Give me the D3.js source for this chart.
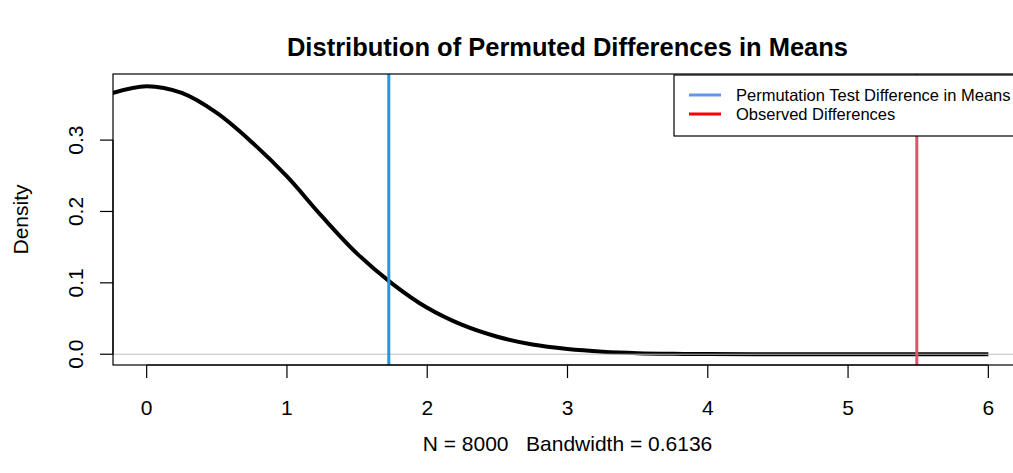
<!DOCTYPE html>
<meta charset="utf-8">
<style>
body { margin: 0; background: white; }
text { font-family: 'Liberation Sans', Arial, sans-serif; fill: black; white-space: pre; }
</style>
<body>
<script src="https://d3js.org/d3.v7.min.js"></script>
<script>
// density curve
var densX = [-0.243, 0, 0.25, 0.5, 0.75, 1.0, 1.25, 1.5, 1.75, 2.0, 2.25, 2.5, 2.75, 3.0, 3.25, 3.5, 3.75, 4.0, 4.5, 5.0, 5.5, 6.0];
var densY = [0.366, 0.3755, 0.366, 0.338, 0.297, 0.249, 0.193, 0.141, 0.099, 0.065, 0.041, 0.0245, 0.0135, 0.0072, 0.0035, 0.0015, 0.0006, 0.0002, 0.00003, 0, 0, 0];

var xTicks = [0, 1, 2, 3, 4, 5, 6];
var yTicks = [0.0, 0.1, 0.2, 0.3];
var xLim = [0, 6];
var yLim = [0, 0.3775];

var permDiff = 1.726;   // blue line
var obsDiff = 5.49;     // red line

var legendLabels = ["Permutation Test Difference in Means", "Observed Differences"];
var legendColours = ["#6495ED", "#FF0000"];

var title = "Distribution of Permuted Differences in Means";
var xLabel = "N = 8000   Bandwidth = 0.6136";
var yLabel = "Density";

var width = 1013, height = 473;
var plotL = 113, plotR = 1022, plotT = 74, plotB = 365;

var svg = d3.select("body").append("svg")
	.attr("width", width)
	.attr("height", height);

// R style 4% padding
var xPad = (xLim[1] - xLim[0]) * 0.04;
var yPad = (yLim[1] - yLim[0]) * 0.04;

var x = d3.scaleLinear()
	.domain([xLim[0] - xPad, xLim[1] + xPad])
	.range([plotL, plotR]);

var y = d3.scaleLinear()
	.domain([yLim[0] - yPad, yLim[1] + yPad])
	.range([plotB, plotT]);

svg.append("clipPath").attr("id", "plotclip")
	.append("rect")
	.attr("x", plotL).attr("y", plotT)
	.attr("width", plotR - plotL).attr("height", plotB - plotT);

var plot = svg.append("g").attr("clip-path", "url(#plotclip)");

var pts = densX.map(function(d, i) { return [d, densY[i]]; });

plot.append("path")
	.datum(pts)
	.attr("d", d3.line()
		.x(function(d) { return x(d[0]); })
		.y(function(d) { return y(d[1]); })
		.curve(d3.curveCatmullRom))
	.attr("fill", "none")
	.attr("stroke", "black")
	.attr("stroke-width", 4)
	.attr("stroke-linejoin", "round");

// zero line
plot.append("line")
	.attr("x1", plotL).attr("x2", plotR)
	.attr("y1", y(0)).attr("y2", y(0))
	.attr("stroke", "#BEBEBE")
	.attr("stroke-width", 1);

// box
svg.append("rect")
	.attr("x", plotL).attr("y", plotT)
	.attr("width", plotR - plotL).attr("height", plotB - plotT)
	.attr("fill", "none")
	.attr("stroke", "black")
	.attr("stroke-width", 1.2);

// x axis
var xAxis = svg.append("g");
xAxis.append("line")
	.attr("x1", x(xTicks[0])).attr("x2", x(xTicks[xTicks.length - 1]))
	.attr("y1", plotB).attr("y2", plotB)
	.attr("stroke", "black").attr("stroke-width", 1.2);
xTicks.forEach(function(t) {
	xAxis.append("line")
		.attr("x1", x(t)).attr("x2", x(t))
		.attr("y1", plotB).attr("y2", plotB + 13)
		.attr("stroke", "black").attr("stroke-width", 1.2);
	xAxis.append("text")
		.attr("x", x(t))
		.attr("y", 415)
		.attr("text-anchor", "middle")
		.style("font-size", "21px")
		.text(t);
});

// y axis
var yAxis = svg.append("g");
yAxis.append("line")
	.attr("x1", plotL).attr("x2", plotL)
	.attr("y1", y(yTicks[0])).attr("y2", y(yTicks[yTicks.length - 1]))
	.attr("stroke", "black").attr("stroke-width", 1.2);
yTicks.forEach(function(t) {
	yAxis.append("line")
		.attr("x1", plotL - 13).attr("x2", plotL)
		.attr("y1", y(t)).attr("y2", y(t))
		.attr("stroke", "black").attr("stroke-width", 1.2);
	yAxis.append("text")
		.attr("transform", "translate(83," + y(t) + ") rotate(-90)")
		.attr("text-anchor", "middle")
		.style("font-size", "21px")
		.text(t.toFixed(1));
});

// titles
svg.append("text")
	.attr("x", (plotL + plotR) / 2)
	.attr("y", 56)
	.attr("text-anchor", "middle")
	.style("font-size", "25.5px")
	.style("font-weight", "bold")
	.text(title);

svg.append("text")
	.attr("x", (plotL + plotR) / 2)
	.attr("y", 451)
	.attr("text-anchor", "middle")
	.style("font-size", "21px")
	.text(xLabel);

svg.append("text")
	.attr("transform", "translate(28," + (plotT + plotB) / 2 + ") rotate(-90)")
	.attr("text-anchor", "middle")
	.style("font-size", "21px")
	.text(yLabel);

// legend
var lg = svg.append("g");
lg.append("rect")
	.attr("x", 674).attr("y", 75)
	.attr("width", 400).attr("height", 61)
	.attr("fill", "white")
	.attr("stroke", "black")
	.attr("stroke-width", 1.2);
legendLabels.forEach(function(l, i) {
	var ly = 95 + i * 19;
	lg.append("line")
		.attr("x1", 689).attr("x2", 721)
		.attr("y1", ly).attr("y2", ly)
		.attr("stroke", legendColours[i])
		.attr("stroke-width", 3);
	lg.append("text")
		.attr("x", 736).attr("y", ly)
		.attr("dy", "0.35em")
		.style("font-size", "16.5px")
		.text(l);
});

// vertical reference lines
plot.append("line")
	.attr("x1", x(permDiff)).attr("x2", x(permDiff))
	.attr("y1", plotT).attr("y2", plotB)
	.attr("stroke", "#2297E6")
	.attr("stroke-width", 3);

plot.append("line")
	.attr("x1", x(obsDiff)).attr("x2", x(obsDiff))
	.attr("y1", plotT).attr("y2", plotB)
	.attr("stroke", "#DF536B")
	.attr("stroke-width", 3);
</script>
</body>
